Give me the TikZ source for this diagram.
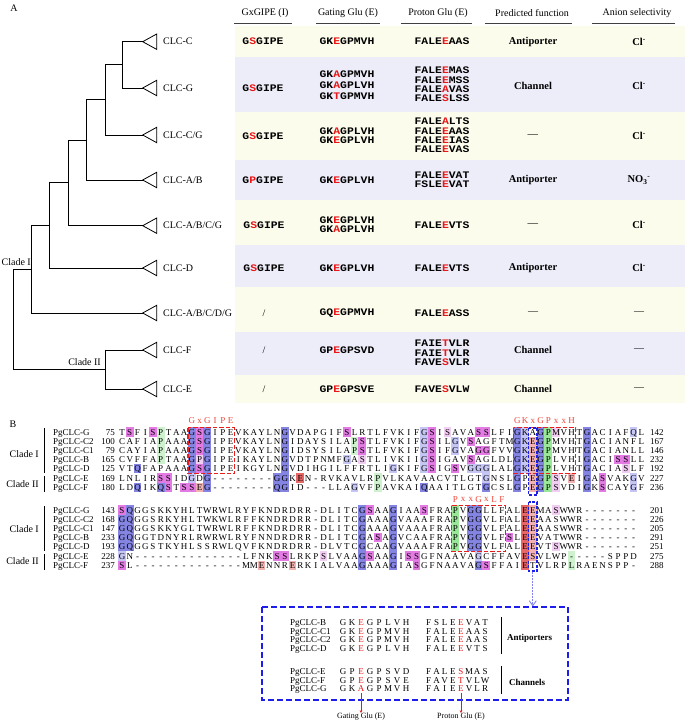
\documentclass[tikz,border=0pt]{standalone}
\usepackage{fontspec}
\setmainfont{Liberation Serif}
\newfontfamily\monof{Liberation Mono}[FakeStretch=1.14]
\usetikzlibrary{arrows.meta}
\definecolor{cream}{RGB}{252,252,236}
\definecolor{lav}{RGB}{237,237,250}
\definecolor{hr}{RGB}{232,22,22}
\definecolor{lblred}{RGB}{236,70,56}
\definecolor{Bone}{RGB}{132,132,226}
\definecolor{Btwo}{RGB}{198,198,244}
\definecolor{Mone}{RGB}{228,122,228}
\definecolor{Mtwo}{RGB}{243,206,243}
\definecolor{Gone}{RGB}{152,232,152}
\definecolor{Gtwo}{RGB}{206,242,206}
\definecolor{Rone}{RGB}{232,102,102}
\definecolor{Rtwo}{RGB}{243,178,178}
\definecolor{dblue}{RGB}{30,30,235}
\definecolor{boxred}{RGB}{235,30,30}
\newcommand\R[1]{\textcolor{hr}{#1}}
\newcount\seqi
\def\mychar#1{\ifnum\lccode`#1=`#1 \ifnum\uccode`#1>0 \textcolor{hr}{\uppercase{#1}}\else #1\fi\else #1\fi}
\def\seqloop#1{\ifx#1\relax\else\node[sq] at ({\sx+\sw*\the\seqi},\seqy) {\mychar#1};\advance\seqi by 1 \expandafter\seqloop\fi}
\newcommand\putseq[4]{\def\sx{#1}\def\sw{#2}\def\seqy{#3}\seqi=0 \seqloop#4\relax}
\begin{document}
\begin{tikzpicture}[x=1pt,y=-1pt,
  sq/.style={font=\fontsize{9}{9}\selectfont, inner sep=0pt, text height=6pt, text depth=0pt, anchor=center},
  nm/.style={font=\fontsize{9}{9}\selectfont, inner sep=0pt, text height=6pt, text depth=0pt},
  lbl/.style={font=\fontsize{9}{9}\selectfont, text=lblred, inner sep=0pt},
  mono/.style={font=\monof\bfseries\fontsize{10}{9.4}\selectfont, align=center, inner sep=0pt},
  monow/.style={font=\monof\bfseries\fontsize{10}{11}\selectfont, align=center, inner sep=0pt},
  fn/.style={font=\bfseries\fontsize{10.5}{10.5}\selectfont, inner sep=0pt},
  plain/.style={font=\fontsize{10}{10}\selectfont, inner sep=0pt},
  hdr/.style={font=\fontsize{10}{10}\selectfont, inner sep=0pt},
  leaf/.style={font=\fontsize{10}{10}\selectfont, anchor=west, inner sep=0pt},
  tree/.style={line width=0.8pt},
  tri/.style={line width=0.8pt},
  rbox/.style={boxred, dash pattern=on 4.5pt off 2pt, line width=1.5pt},
  bbox/.style={dblue, dash pattern=on 3pt off 1.5pt, line width=1.1pt}]
\useasboundingbox (0,0) rectangle (685,722);
\fill[white] (0,0) rectangle (685,722);
% ---------------- Part A ----------------
\node[plain] (labA) at (14,8) {A};
\foreach \ta/\tb/\tc in {26/57/cream, 57/112/lav, 112/160/cream, 160/200/lav, 200/245/cream, 245/287/lav, 287/332/cream, 332/375/lav, 375/403/cream}
  \fill[\tc] (235,\ta) rectangle (685,\tb);
\foreach \x/\a/\b/\t [count=\i] in {265/234/292/GxGIPE (I), 348/316/380/Gating Glu (E), 438/401/472/Proton Glu (E), 532/485/572/Predicted function, 637/592/675/Anion selectivity}
  {\node[hdr] (h\i) at (\x,13) {\t};
   \draw[line width=0.9pt, black!75] (\a,23.5) -- (\b,23.5);}
% tree
\foreach \n/\y/\t in {C/41.7/{CLC-C}, G/88/{CLC-G}, CG/135/{CLC-C/G}, AB/180/{CLC-A/B}, ABCG/225.7/{CLC-A/B/C/G}, D/268/{CLC-D}, ABCDG/313/{CLC-A/B/C/D/G}, F/350/{CLC-F}, E/389/{CLC-E}}
  {\coordinate (t\n) at (142.7,\y);
   \draw[tri] (t\n) -- ++(14,-7.7) -- ++(0,15.4) -- cycle;
   \node[leaf] (l\n) at (163,\y) {\t};}
\coordinate (n1) at (122.7,64.85);
\coordinate (n2) at (105.3,99.9);
\coordinate (n3) at (86.7,140);
\coordinate (n4) at (68.3,182.8);
\coordinate (n5) at (49.7,225.4);
\coordinate (n6) at (31.7,269.2);
\coordinate (n7) at (105.3,369.5);
\coordinate (rt) at (13,319.35);
\draw[tree] (n1) |- (tC); \draw[tree] (n1) |- (tG);
\draw[tree] (n2) |- (n1); \draw[tree] (n2) |- (tCG);
\draw[tree] (n3) |- (n2); \draw[tree] (n3) |- (tAB);
\draw[tree] (n4) |- (n3); \draw[tree] (n4) |- (tABCG);
\draw[tree] (n5) |- (n4); \draw[tree] (n5) |- (tD);
\draw[tree] (n6) |- (n5); \draw[tree] (n6) |- (tABCDG);
\draw[tree] (n7) |- (tF); \draw[tree] (n7) |- (tE);
\draw[tree] (rt) |- (n6); \draw[tree] (rt) |- (n7);
\node[plain, anchor=east] (cl1) at (31,262) {Clade I};
\node[plain, anchor=east] (cl2) at (101,362.5) {Clade II};
% table rows
\node[mono] (a1) at (263,41.5) {G\R{S}GIPE};
\node[mono] (b1) at (347,41.5) {GK\R{E}GPMVH};
\node[mono] (c1) at (442,41.5) {FALE\R{E}AAS};
\node[fn] (d1) at (533,41.5) {Antiporter};
\node[fn] (e1) at (639,41.5) {Cl\textsuperscript{-}};
\node[mono] (a2) at (263,88) {G\R{S}GIPE};
\node[monow] (b2) at (347,85.5) {GK\R{A}GPMVH\\GK\R{A}GPLVH\\GK\R{T}GPMVH};
\node[mono] (c2) at (442,84.5) {FALE\R{E}MAS\\FALE\R{E}MSS\\FALE\R{A}VAS\\FALE\R{S}LSS};
\node[fn] (d2) at (533,86) {Channel};
\node[fn] (e2) at (639,86) {Cl\textsuperscript{-}};
\node[mono] (a3) at (263,136) {G\R{S}GIPE};
\node[mono] (b3) at (347,135.5) {GK\R{A}GPLVH\\GK\R{E}GPLVH};
\node[mono] (c3) at (442,135.5) {FALE\R{A}LTS\\FALE\R{E}AAS\\FALE\R{E}IAS\\FALE\R{E}VAS};
\node[fn] (d3) at (533,136) {\textmd{\textemdash}};
\node[fn] (e3) at (639,136) {Cl\textsuperscript{-}};
\node[mono] (a4) at (263,180) {G\R{P}GIPE};
\node[mono] (b4) at (347,180) {GK\R{E}GPLVH};
\node[mono] (c4) at (442,180) {FALE\R{E}VAT\\FSLE\R{E}VAT};
\node[fn] (d4) at (533,180) {Antiporter};
\node[fn] (e4) at (639,180) {NO\textsubscript{3}\textsuperscript{-}};
\node[mono] (a5) at (264,225) {G\R{S}GIPE};
\node[mono] (b5) at (347,225) {GK\R{E}GPLVH\\GK\R{A}GPLVH};
\node[mono] (c5) at (442,225) {FALE\R{E}VTS};
\node[fn] (d5) at (533,225) {\textmd{\textemdash}};
\node[fn] (e5) at (639,225) {Cl\textsuperscript{-}};
\node[mono] (a6) at (264,268) {G\R{S}GIPE};
\node[mono] (b6) at (347,268) {GK\R{E}GPLVH};
\node[mono] (c6) at (442,268) {FALE\R{E}VTS};
\node[fn] (d6) at (533,268) {Antiporter};
\node[fn] (e6) at (639,268) {Cl\textsuperscript{-}};
\node[plain] (a7) at (264,313) {/};
\node[mono] (b7) at (347,313) {GQ\R{E}GPMVH};
\node[mono] (c7) at (442,313) {FALE\R{E}ASS};
\node[plain] (d7) at (533,313) {\textemdash};
\node[plain] (e7) at (639,313) {\textemdash};
\node[plain] (a8) at (264,350) {/};
\node[mono] (b8) at (347,350) {GP\R{E}GPSVD};
\node[mono] (c8) at (442,353) {FAIE\R{T}VLR\\FAIE\R{T}VLR\\FAVE\R{S}VLR};
\node[fn] (d8) at (533,350) {Channel};
\node[plain] (e8) at (639,350) {\textemdash};
\node[plain] (a9) at (264,389) {/};
\node[mono] (b9) at (347,389) {GP\R{E}GPSVE};
\node[mono] (c9) at (442,389) {FAVE\R{S}VLW};
\node[fn] (d9) at (533,389) {Channel};
\node[plain] (e9) at (639,389) {\textemdash};
% ---------------- Part B ----------------
\node[plain] (labB) at (13,424) {B};
% highlights block 1
\foreach \c/\r/\k in {1/0/Mone,4/0/Mone,5/0/Gtwo,9/0/Bone,10/0/Mone,11/0/Bone,21/0/Bone,29/0/Mone,39/0/Btwo,40/0/Mone,42/0/Mtwo,46/0/Mone,47/0/Mone,51/0/Bone,52/0/Btwo,54/0/Bone,55/0/Gone,56/0/Mtwo,60/0/Bone,66/0/Btwo,
 5/1/Gtwo,9/1/Bone,10/1/Mone,11/1/Bone,21/1/Bone,30/1/Gtwo,31/1/Mone,39/1/Btwo,40/1/Mone,43/1/Btwo,45/1/Mone,51/1/Bone,52/1/Btwo,53/1/Rtwo,54/1/Bone,55/1/Gone,60/1/Bone,
 5/2/Gtwo,9/2/Bone,10/2/Mone,11/2/Bone,21/2/Bone,30/2/Gtwo,31/2/Mone,39/2/Btwo,40/2/Mone,43/2/Btwo,46/2/Mone,47/2/Mone,51/2/Bone,52/2/Btwo,53/2/Rtwo,54/2/Bone,55/2/Gone,60/2/Bone,
 5/3/Gtwo,9/3/Bone,10/3/Mtwo,11/3/Bone,21/3/Bone,29/3/Btwo,31/3/Mtwo,39/3/Btwo,40/3/Mone,45/3/Mone,51/3/Bone,52/3/Btwo,53/3/Rtwo,54/3/Bone,55/3/Gone,60/3/Bone,64/3/Mone,65/3/Mone,
 2/4/Bone,9/4/Bone,10/4/Mone,11/4/Bone,21/4/Bone,35/4/Btwo,39/4/Btwo,40/4/Mone,43/4/Mone,45/4/Btwo,46/4/Btwo,47/4/Btwo,51/4/Bone,52/4/Btwo,53/4/Rtwo,54/4/Bone,55/4/Gone,60/4/Bone,65/4/Mtwo,
 5/5/Mone,6/5/Mone,9/5/Btwo,11/5/Bone,20/5/Bone,21/5/Bone,23/5/Rone,33/5/Gtwo,47/5/Btwo,51/5/Bone,53/5/Rtwo,54/5/Bone,55/5/Gone,56/5/Mtwo,58/5/Rtwo,60/5/Bone,62/5/Mone,66/5/Btwo,
 2/6/Bone,5/6/Bone,6/6/Mone,8/6/Mone,9/6/Mone,10/6/Rtwo,11/6/Bone,20/6/Bone,21/6/Bone,30/6/Btwo,33/6/Gtwo,39/6/Bone,47/6/Bone,51/6/Bone,53/6/Rtwo,54/6/Bone,55/6/Gone,56/6/Mtwo,60/6/Bone,62/6/Mone,66/6/Btwo}
  {\fill[\k] ({122+7.75*\c-3.875},{432+9.2*\r-4.6}) rectangle ++(7.75,9.2);}
% highlights block 2
\foreach \c/\r/\k in {0/0/Mone,1/0/Bone,31/0/Bone,32/0/Mone,35/0/Bone,39/0/Mone,43/0/Gone,45/0/Bone,46/0/Bone,52/0/Rone,53/0/Rtwo,56/0/Mtwo,
 0/1/Bone,1/1/Bone,31/1/Bone,35/1/Bone,43/1/Gone,45/1/Bone,46/1/Bone,52/1/Rone,53/1/Rtwo,
 0/2/Bone,1/2/Bone,31/2/Bone,35/2/Bone,43/2/Gone,45/2/Bone,46/2/Bone,52/2/Rone,53/2/Rtwo,
 0/3/Bone,1/3/Bone,31/3/Bone,33/3/Mone,35/3/Bone,43/3/Gone,45/3/Bone,46/3/Bone,50/3/Mone,52/3/Rone,53/3/Rtwo,
 0/4/Bone,1/4/Bone,31/4/Bone,35/4/Bone,43/4/Gone,45/4/Bone,46/4/Bone,52/4/Rone,53/4/Rtwo,56/4/Mtwo,
 0/5/Btwo,20/5/Mone,21/5/Mone,26/5/Mtwo,31/5/Bone,32/5/Mone,35/5/Bone,37/5/Mone,38/5/Mone,46/5/Btwo,52/5/Rone,53/5/Rtwo,58/5/Gtwo,
 0/6/Mone,18/6/Rtwo,22/6/Rtwo,31/6/Bone,35/6/Bone,38/6/Mone,46/6/Bone,47/6/Mone,52/6/Rone,58/6/Gtwo}
  {\fill[\k] ({122+7.75*\c-3.875},{510+9.2*\r-4.6}) rectangle ++(7.75,9.2);}
% names and numbers
\foreach \n/\a/\b [count=\r from 0] in {G/75/142, C2/100/167, C1/79/146, B/165/232, D/125/192, E/169/227, F/180/236}
  {\node[nm, anchor=west] at (53,{432+9.2*\r}) {PgCLC-\n};
   \node[nm, anchor=east] at (115,{432+9.2*\r}) {\a};
   \node[nm, anchor=west] at (650,{432+9.2*\r}) {\b};}
\foreach \n/\a/\b [count=\r from 0] in {G/143/201, C2/168/226, C1/147/205, B/233/291, D/193/251, E/228/275, F/237/288}
  {\node[nm, anchor=west] at (53,{510+9.2*\r}) {PgCLC-\n};
   \node[nm, anchor=east] at (115,{510+9.2*\r}) {\a};
   \node[nm, anchor=west] at (650,{510+9.2*\r}) {\b};}
% sequences block 1
\putseq{122}{7.75}{432}{TSFISPTAAGSGIPEVKAYLNGVDAPGIFSLRTLFVKIFGSISAVASSLFIGKAGPMVHTGACIAFQL}
\putseq{122}{7.75}{441.2}{CAFIAPAAAGSGIPEVKAYLNGIDAYSILAPSTLFVKIFGSILGVSAGFTMGKEGPMVHTGACIANFL}
\putseq{122}{7.75}{450.4}{CAYIAPAAAGSGIPEVKAYLNGIDSYSILAPSTLFVKIFGSIFGVAGGFVVGKEGPMVHTGACIANLL}
\putseq{122}{7.75}{459.6}{CVFFAPTAAGPGIPEIKAYLNGVDTPNMFGASTLIVKIIGSIGAVSAGLDLGKEGPLVHIGACISSLL}
\putseq{122}{7.75}{468.8}{VTQFAPAAAGSGIPEIKGYLNGVDIHGILFFRTLIGKIFGSIGSVGGGLALGKEGPLVHTGACIASLF}
\putseq{122}{7.75}{478}{LNLIRSSIDGDG--------GGKEN-RVKAVLRPVLKAVAACVTLGTGNSLGPEGPSVEIGASVAKGV}
\putseq{122}{7.75}{487.2}{LDQIKQSTSSEG--------QGID---LLAGVFPAVKAIQAAITLGTGCSLGPEGPSVDIGKSCAYGF}
% sequences block 2
\putseq{122}{7.75}{510}{SQGGSKKYHLTWRWLRYFKNDRDRR-DLITCGSAAGIAASFRAPVGGLLFALEEMASWWR-------}
\putseq{122}{7.75}{519.2}{GQGGSRKYHLTWKWLRFFKNDRDRR-DLITCGAAAGVAAAFRAPVGGVLFALEEAASWWR-------}
\putseq{122}{7.75}{528.4}{GQGGSKKYGLTWRWLRFFKNDRDRR-DLITCGAAAGVAAAFRAPVGGVLFALEEAASWWR-------}
\putseq{122}{7.75}{537.6}{GQGGTDNYRLRWRWLRYFNNDRDRR-DLITCGASAGVCAAFRAPVGGVLFSLEEVATWWR-------}
\putseq{122}{7.75}{546.8}{GQGGSTKYHLSSRWLQVFKNDRDRR-DLVTCGCAAGVAAAFRAPVGGVLFALEEVTSWWR-------}
\putseq{122}{7.75}{556}{GN--------------LFNKSSLRKPSLVAAGSAAGISSGFNAAVAGCFFAVESVLWP-----SPPD}
\putseq{122}{7.75}{565.2}{SL--------------MMENNRERKIALVAAGAAAGIASGFNAAVAGSFFAIETVLRPLRAENSPP-}
% clade labels B
\node[plain, anchor=east] (bc1) at (39,454) {Clade I};
\draw[line width=0.7pt] (44,428) -- (44,473);
\node[plain, anchor=east] (bc2) at (39,484) {Clade II};
\draw[line width=0.7pt] (44,476) -- (44,492);
\node[plain, anchor=east] (bc3) at (39,529) {Clade I};
\draw[line width=0.7pt] (44,506) -- (44,551);
\node[plain, anchor=east] (bc4) at (39,561) {Clade II};
\draw[line width=0.7pt] (44,554) -- (44,570);
% motif labels
\foreach \c/\t in {9/G,10/x,11/G,12/I,13/P,14/E} \node[lbl] at ({122+7.75*\c},421) {\t};
\foreach \c/\t in {51/G,52/K,53/x,54/G,55/P,56/x,57/x,58/H} \node[lbl] at ({122+7.75*\c},421) {\t};
\foreach \c/\t in {43/P,44/x,45/x,46/G,47/x,48/L,49/F} \node[lbl] at ({122+7.75*\c},499.5) {\t};
% dashed boxes
\draw[rbox] (188,427.5) rectangle (234.5,473.5);
\draw[rbox] (513.5,427.5) rectangle (575.5,473.5);
\draw[rbox] (451.5,505.5) rectangle (505.5,551.5);
\draw[bbox] (528.5,428) rectangle (537,495);
\draw[bbox] (528.5,502) rectangle (537,571);
\coordinate (arrS) at (532.75,571.5);
\coordinate (arrE) at (532.75,606.5);
\draw[dblue!55, dash pattern=on 2pt off 1pt, line width=0.9pt, -{Straight Barb[length=5pt,width=7pt]}] (arrS) -- (arrE);
% big box
\draw[dblue, dash pattern=on 6pt off 3pt, line width=1.5pt] (262,607) rectangle (568,700);
\foreach \n/\y in {B/622.5, C1/631, C2/639.5, D/648, E/671.5, F/680, G/688.5}
  \node[nm, anchor=west] at (290,\y) {PgCLC-\n};
\putseq{343}{9}{622.5}{GKeGPLVH}
\putseq{343}{9}{631}{GKeGPMVH}
\putseq{343}{9}{639.5}{GKeGPMVH}
\putseq{343}{9}{648}{GKeGPLVH}
\putseq{343}{9}{671.5}{GPeGPSVD}
\putseq{343}{9}{680}{GPeGPSVE}
\putseq{343}{9}{688.5}{GKaGPMVH}
\putseq{428.5}{8.1}{622.5}{FSLEeVAT}
\putseq{428.5}{8.1}{631}{FALEeAAS}
\putseq{428.5}{8.1}{639.5}{FALEeAAS}
\putseq{428.5}{8.1}{648}{FALEeVTS}
\putseq{428.5}{8.1}{671.5}{FALEsMAS}
\putseq{428.5}{8.1}{680}{FAVEtVLW}
\putseq{428.5}{8.1}{688.5}{FAIEeVLR}
\draw[line width=0.9pt] (501.5,617) -- (501.5,654);
\draw[line width=0.9pt] (501.5,666) -- (501.5,694);
\node[font=\bfseries\fontsize{9}{9}\selectfont, anchor=west, inner sep=0pt] (ant) at (507,638) {Antiporters};
\node[font=\bfseries\fontsize{9}{9}\selectfont, anchor=west, inner sep=0pt] (chn) at (509,682) {Channels};
% bottom arrows
\node[font=\fontsize{8}{8}\selectfont, inner sep=0pt] (gg) at (361,717) {Gating Glu (E)};
\node[font=\fontsize{8}{8}\selectfont, inner sep=0pt] (pg) at (461,717) {Proton Glu (E)};
\coordinate (gA) at (361,693);
\coordinate (pA) at (461,693);
\draw[hr, line width=0.6pt, -{Stealth[length=3pt,width=2.5pt]}] (gA) -- (gg.north);
\draw[hr, line width=0.6pt, -{Stealth[length=3pt,width=2.5pt]}] (pA) -- (pg.north);
\end{tikzpicture}
\end{document}
